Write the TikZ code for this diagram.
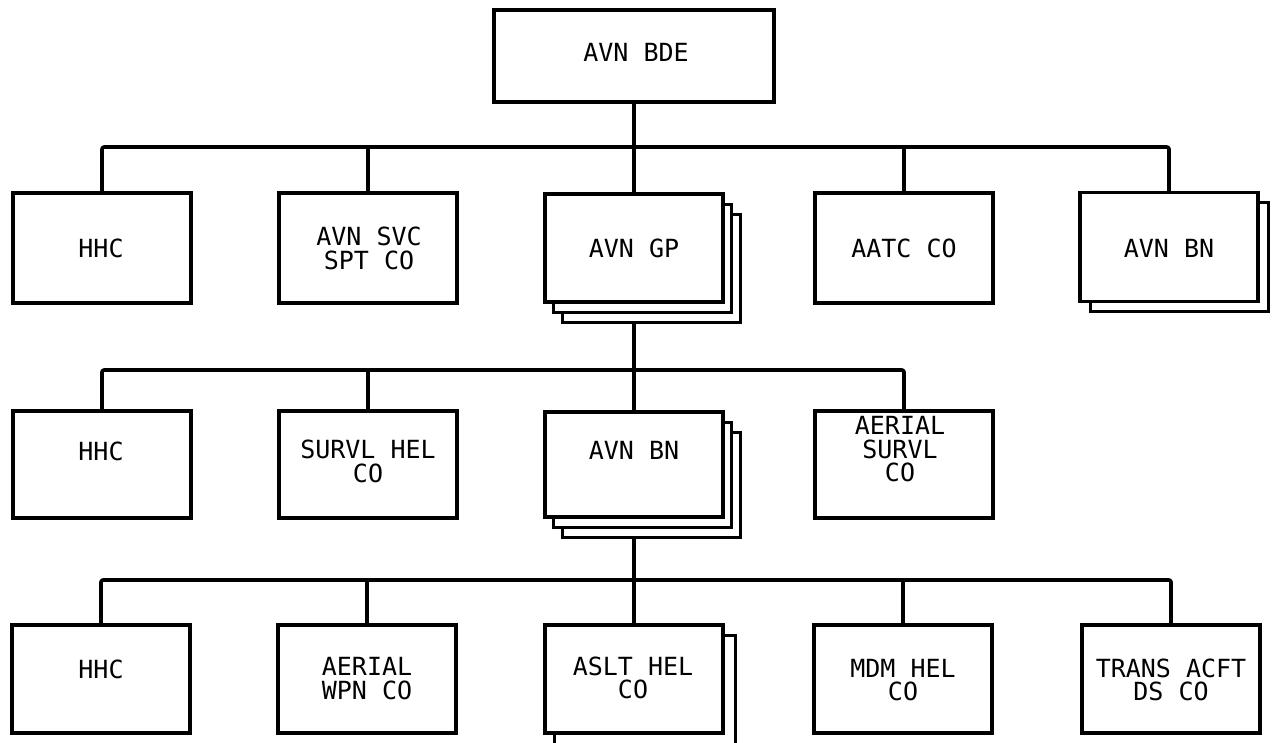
\documentclass[tikz,border=0pt]{standalone}
\usepackage{fontspec}
\newfontfamily\boxfont{DejaVu Sans Mono}
\begin{document}
\begin{tikzpicture}[x=1pt,y=-1pt,
  box/.style={draw, line width=3.2pt, fill=white, minimum width=178pt, minimum height=108pt, inner sep=0pt},
  layer/.style={draw, line width=3pt, fill=white, minimum width=178pt, minimum height=108pt, inner sep=0pt},
  lbl/.style={font={\boxfont\fontsize{25}{23.5}\selectfont}, align=center, inner sep=0pt},
  conn/.style={line width=3.6pt, line join=round, rounded corners=2pt}]
\useasboundingbox (0,0) rectangle (1274,742);
\clip (0,0) rectangle (1274,742);

% ---------- top ----------
\node[box, minimum width=280pt, minimum height=92pt] (bde) at (634,56) {};
\node[lbl] (tbde) at (636,52) {AVN BDE};

% ---------- row 1 ----------
\node[box, minimum height=110pt] (r1hhc) at (102,248) {};
\node[lbl] (t1hhc) at (101,248) {HHC};
\node[box, minimum height=110pt] (r1svc) at (368,248) {};
\node[lbl] (t1svc) at (369,248.5) {AVN SVC\\SPT CO};
\node[layer] (gp3) at (651,268) {};
\node[layer] (gp2) at (642,258) {};
\node[box] (gp) at (634,248) {};
\node[lbl] (tgp) at (634,248) {AVN GP};
\node[box, minimum height=110pt] (r1aatc) at (904,248) {};
\node[lbl] (t1aatc) at (904,248) {AATC CO};
\node[layer, minimum height=109pt] (bn1b) at (1179,257) {};
\node[box, minimum height=109pt] (bn1) at (1169,247) {};
\node[lbl] (tbn1) at (1169,248) {AVN BN};

% ---------- row 2 ----------
\node[box, minimum height=107pt] (r2hhc) at (102,464.5) {};
\node[lbl] (t2hhc) at (101,451) {HHC};
\node[box, minimum height=107pt] (r2survl) at (368,464.5) {};
\node[lbl] (t2survl) at (368,461.5) {SURVL HEL\\CO};
\node[layer, minimum height=105pt] (bn3) at (651,484.5) {};
\node[layer, minimum height=105pt] (bn2b) at (642,474.5) {};
\node[box, minimum height=105pt] (bn2) at (634,464.5) {};
\node[lbl] (tbn2) at (634,450) {AVN BN};
\node[box, minimum height=107pt] (r2aer) at (904,464.5) {};
\node[lbl] (t2aer) at (900,449.5) {AERIAL\\SURVL\\CO};

% ---------- row 3 ----------
\node[box] (r3hhc) at (101,679) {};
\node[lbl] (t3hhc) at (101,669) {HHC};
\node[box] (r3wpn) at (367,679) {};
\node[lbl] (t3wpn) at (367,678.5) {AERIAL\\WPN CO};
\node[layer, minimum width=181pt, minimum height=140pt] (asltb) at (644.5,705) {};
\node[box] (aslt) at (634,679) {};
\node[lbl] (taslt) at (633,678) {ASLT HEL\\CO};
\node[box] (r3mdm) at (903,679) {};
\node[lbl] (t3mdm) at (903,680) {MDM HEL\\CO};
\node[box] (r3trans) at (1171,679) {};
\node[lbl] (t3trans) at (1171,680) {TRANS ACFT\\DS CO};

% ---------- connectors ----------
\coordinate (b1) at (634,147);
\coordinate (b2) at (634,370);
\coordinate (b3) at (634,580);

\draw[conn] (bde.south) -- (b1);
\draw[conn] (r1hhc.north) |- (b1) -| (bn1.north);
\draw[conn] (r1svc.north) -- (r1svc.north |- b1);
\draw[conn] (r1aatc.north) -- (r1aatc.north |- b1);
\draw[conn] (b1) -- (gp.north);

\draw[conn] (gp.south |- gp3.south) -- (b2);
\draw[conn] (r2hhc.north) |- (b2) -| (r2aer.north);
\draw[conn] (r2survl.north) -- (r2survl.north |- b2);
\draw[conn] (b2) -- (bn2.north);

\draw[conn] (bn2.south |- bn3.south) -- (b3);
\draw[conn] (r3hhc.north) |- (b3) -| (r3trans.north);
\draw[conn] (r3wpn.north) -- (r3wpn.north |- b3);
\draw[conn] (r3mdm.north) -- (r3mdm.north |- b3);
\draw[conn] (b3) -- (aslt.north);
\end{tikzpicture}
\end{document}
